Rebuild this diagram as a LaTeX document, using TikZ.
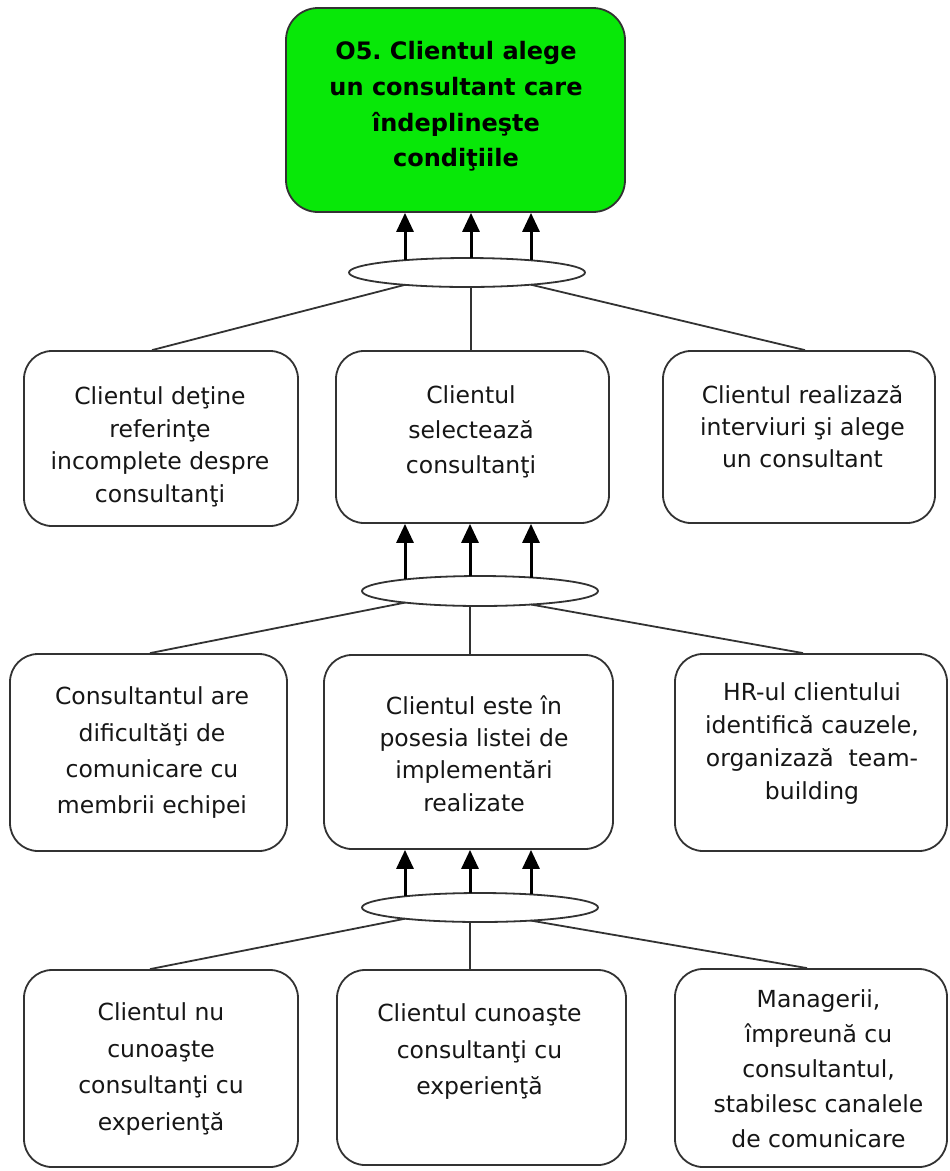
\documentclass[tikz,border=0pt]{standalone}
\usepackage{fontspec}
\setmainfont{DejaVu Sans}
\usetikzlibrary{shapes.geometric,arrows.meta,calc}
\definecolor{goalgreen}{RGB}{8,232,8}
\definecolor{edge}{RGB}{50,50,50}
\definecolor{ink}{RGB}{22,22,22}
\frenchspacing
\begin{document}
\begin{tikzpicture}[x=1pt,y=-1pt,
  box/.style={draw=edge,line width=1.8pt,rounded corners=28pt,fill=white,
    minimum width=#1,inner sep=0},
  goal/.style={draw=edge,line width=1.8pt,rounded corners=32pt,fill=goalgreen,
    minimum width=339pt,minimum height=204pt,inner sep=0},
  txt/.style={align=center,inner sep=0,text=ink,font=\fontsize{23.5}{#1}\selectfont},
  goaltxt/.style={align=center,inner sep=0,text=black,font=\fontsize{24}{35.7}\selectfont\bfseries},
  andnode/.style={draw=edge,line width=1.8pt,ellipse,fill=white,
    minimum width=236pt,minimum height=29pt,inner sep=0},
  link/.style={draw=edge,line width=1.8pt},
  arr/.style={draw=black,line width=3pt,-{Triangle[width=17pt,length=19pt]}}]
\useasboundingbox (0,0) rectangle (950,1171);

% goal box
\node[goal] (top) at (455.5,110) {};
\node[goaltxt] (topt) at (456,106.5) {O5. Clientul alege\\un consultant care\\îndeplineşte\\condiţiile};

% first row
\node[box=274pt,minimum height=175pt] (l1) at (161,438.5) {};
\node[box=273pt,minimum height=172pt] (m1) at (472.5,437) {};
\node[box=272pt,minimum height=172pt] (r1) at (799,437) {};
\node[txt=32.5] (l1t) at (160,447) {Clientul deţine\\referinţe\\incomplete despre\\consultanţi};
\node[txt=35] (m1t) at (471,431.5) {Clientul\\selectează\\consultanţi};
\node[txt=32] (r1t) at (802.5,427) {Clientul realizază\\interviuri şi alege\\un consultant};

% second row
\node[box=277pt,minimum height=197pt] (l2) at (148.5,752.5) {};
\node[box=289pt,minimum height=194pt] (m2) at (468.5,752) {};
\node[box=272pt,minimum height=197pt] (r2) at (811,752.5) {};
\node[txt=36.3] (l2t) at (152,752.8) {Consultantul are\\dificultăţi de\\comunicare cu\\membrii echipei};
\node[txt=32.3] (m2t) at (474,753.5) {Clientul este în\\posesia listei de\\implementări\\realizate};
\node[txt=33] (r2t) at (812,743.5) {HR-ul clientului\\identifică cauzele,\\organizază\ \ team-\\building};

% third row
\node[box=274pt,minimum height=197pt] (l3) at (161,1068.5) {};
\node[box=289pt,minimum height=195pt] (m3) at (481.5,1067.5) {};
\node[box=272pt,minimum height=198pt] (r3) at (811,1068) {};
\node[txt=36.7] (l3t) at (161,1069) {Clientul nu\\cunoaşte\\consultanţi cu\\experienţă};
\node[txt=36.5] (m3t) at (479.5,1052) {Clientul cunoaşte\\consultanţi cu\\experienţă};
\node[txt=35] (r3t) at (818.5,1068.5) {Managerii,\\împreună cu\\consultantul,\\stabilesc canalele\\de comunicare};

% AND junctions
\node[andnode] (e1) at (467,272.5) {};
\node[andnode,minimum height=30pt] (e2) at (480,591) {};
\node[andnode] (e3) at (480,907.5) {};

% junction 1 -> goal
\coordinate (a1l) at ($(e1.center)+(-62,-12.3)$);
\coordinate (a1m) at ($(e1.center)+(4,-14.5)$);
\coordinate (a1r) at ($(e1.center)+(64,-12.2)$);
\draw[arr] (a1l) -- (a1l |- top.south);
\draw[arr] (a1m) -- (a1m |- top.south);
\draw[arr] (a1r) -- (a1r |- top.south);
\coordinate (b1l) at ($(e1.center)+(-62,12.3)$);
\coordinate (b1m) at ($(e1.center)+(4,14.5)$);
\coordinate (b1r) at ($(e1.center)+(64,12.2)$);
\draw[link] (b1l) -- ([xshift=-9pt]l1.north);
\draw[link] (b1m) -- (b1m |- m1.north);
\draw[link] (b1r) -- ([xshift=6pt]r1.north);

% junction 2 -> first row
\coordinate (a2l) at ($(e2.center)+(-75,-11.6)$);
\coordinate (a2m) at ($(e2.center)+(-10,-14.9)$);
\coordinate (a2r) at ($(e2.center)+(51,-13.5)$);
\draw[arr] (a2l) -- (a2l |- m1.south);
\draw[arr] (a2m) -- (a2m |- m1.south);
\draw[arr] (a2r) -- (a2r |- m1.south);
\coordinate (b2l) at ($(e2.center)+(-75,11.6)$);
\coordinate (b2m) at ($(e2.center)+(-10,14.9)$);
\coordinate (b2r) at ($(e2.center)+(51,13.5)$);
\draw[link] (b2l) -- ([xshift=1.5pt]l2.north);
\draw[link] (b2m) -- (b2m |- m2.north);
\draw[link] (b2r) -- ([xshift=-8pt]r2.north);

% junction 3 -> second row
\coordinate (a3l) at ($(e3.center)+(-75,-11.2)$);
\coordinate (a3m) at ($(e3.center)+(-10,-14.4)$);
\coordinate (a3r) at ($(e3.center)+(51,-13.1)$);
\draw[arr] (a3l) -- (a3l |- m2.south);
\draw[arr] (a3m) -- (a3m |- m2.south);
\draw[arr] (a3r) -- (a3r |- m2.south);
\coordinate (b3l) at ($(e3.center)+(-75,11.2)$);
\coordinate (b3m) at ($(e3.center)+(-10,14.4)$);
\coordinate (b3r) at ($(e3.center)+(51,13.1)$);
\draw[link] (b3l) -- ([xshift=-11pt]l3.north);
\draw[link] (b3m) -- (b3m |- m3.north);
\draw[link] (b3r) -- ([xshift=-4pt]r3.north);
\end{tikzpicture}
\end{document}
